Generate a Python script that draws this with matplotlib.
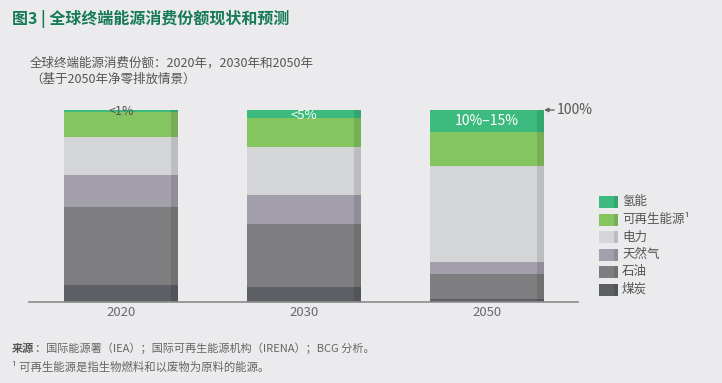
import matplotlib
matplotlib.use("Agg")
import matplotlib.pyplot as plt
from matplotlib.patches import Rectangle
import numpy as np

plt.rcParams['font.family'] = ['Noto Sans CJK SC', 'DejaVu Sans']

# data (shares in %)
years = ['2020', '2030', '2050']
sources = ['煤炭', '石油', '天然气', '电力', '可再生能源¹', '氢能']
coal = [8.9, 7.8, 1.6]
oil = [40.6, 32.8, 13.0]
gas = [16.7, 15.1, 6.2]
power = [19.8, 25.0, 50.0]
renew = [13.0, 15.3, 17.7]
hydrogen = [1.0, 4.0, 11.5]
top_labels = ['<1%', '<5%', '10%–15%']

colors = ['#5c6064', '#7e7e80', '#a39fab', '#d4d5d7', '#85c560', '#3dbb7e']
bg = '#ebebed'

W, H = 722, 383
fig = plt.figure(figsize=(W / 100, H / 100), dpi=100, facecolor=bg)

# axes: baseline at y=302 px, 100% at y=110 px, x from 29 to 578 px
ax = fig.add_axes([29 / W, (H - 302) / H, (578 - 29) / W, 192 / H])
ax.set_facecolor(bg)
ax.set_xlim(-0.503, 2.497)
ax.set_ylim(0, 100)

x = np.arange(len(years))
bw = 0.623
sw = 0.04
bottom = np.zeros(len(years))
for vals, c in zip([coal, oil, gas, power, renew, hydrogen], colors):
    ax.bar(x, vals, bw, bottom=bottom, color=c, linewidth=0)
    # darker strip at the right edge of each bar
    ax.bar(x + bw / 2 - sw / 2, vals, sw, bottom=bottom, color='black',
           alpha=0.11, linewidth=0)
    bottom += np.array(vals)

for s in ['top', 'right', 'left']:
    ax.spines[s].set_visible(False)
ax.spines['bottom'].set_color('#8c8c8c')
ax.spines['bottom'].set_linewidth(1.2)
ax.set_yticks([])
ax.set_xticks(x)
ax.set_xticklabels(years, fontsize=9.5, color='#666a72')
ax.tick_params(axis='x', length=0, pad=3)

# labels on the hydrogen segments
ax.text(x[0], 99.0, top_labels[0], ha='center', va='center', fontsize=9,
        color='#555555', clip_on=False)
ax.text(x[1], 97.0, top_labels[1], ha='center', va='center', fontsize=9.5,
        color='white')
ax.text(x[2], 100 - hydrogen[2] / 2, top_labels[2], ha='center', va='center',
        fontsize=10, color='white')

# 100% pointer
ax.annotate('100%', xy=(x[2] + bw / 2, 100), xytext=(x[2] + bw / 2 + 0.07, 100),
            ha='left', va='center', fontsize=10, color='#555555',
            arrowprops=dict(arrowstyle='-|>', color='#666666', lw=1,
                            mutation_scale=6, shrinkA=0, shrinkB=0),
            annotation_clip=False)

# legend drawn by hand (top to bottom)
for i, (name, c) in enumerate(zip(sources[::-1], colors[::-1])):
    yc = 202 + i * 17.5
    fig.add_artist(Rectangle((599 / W, (H - yc - 6) / H), 19 / W, 12 / H,
                             transform=fig.transFigure, color=c, lw=0))
    fig.add_artist(Rectangle((614 / W, (H - yc - 6) / H), 4 / W, 12 / H,
                             transform=fig.transFigure, color='black',
                             alpha=0.11, lw=0))
    fig.text(622 / W, (H - yc) / H, name, fontsize=9, color='#555555',
             va='center', ha='left')

# title and subtitle
fig.text(12 / W, (H - 19) / H, '图3 | 全球终端能源消费份额现状和预测',
         fontsize=11.5, fontweight='heavy', color='#167a58', va='center')
fig.text(30 / W, (H - 63) / H, '全球终端能源消费份额：2020年，2030年和2050年',
         fontsize=9, color='#555555', va='center')
fig.text(30 / W, (H - 79) / H, '（基于2050年净零排放情景）',
         fontsize=9, color='#555555', va='center')

# sources
fig.text(12 / W, (H - 348) / H, '来源', fontsize=8, fontweight='bold',
         color='#555555', va='center')
fig.text(35 / W, (H - 348) / H,
         '：国际能源署（IEA）；国际可再生能源机构（IRENA）；BCG 分析。',
         fontsize=8, color='#666666', va='center')
fig.text(12 / W, (H - 367) / H, '¹ 可再生能源是指生物燃料和以废物为原料的能源。',
         fontsize=8.2, color='#666666', va='center')

fig.savefig('out.png', dpi=100, facecolor=bg)
